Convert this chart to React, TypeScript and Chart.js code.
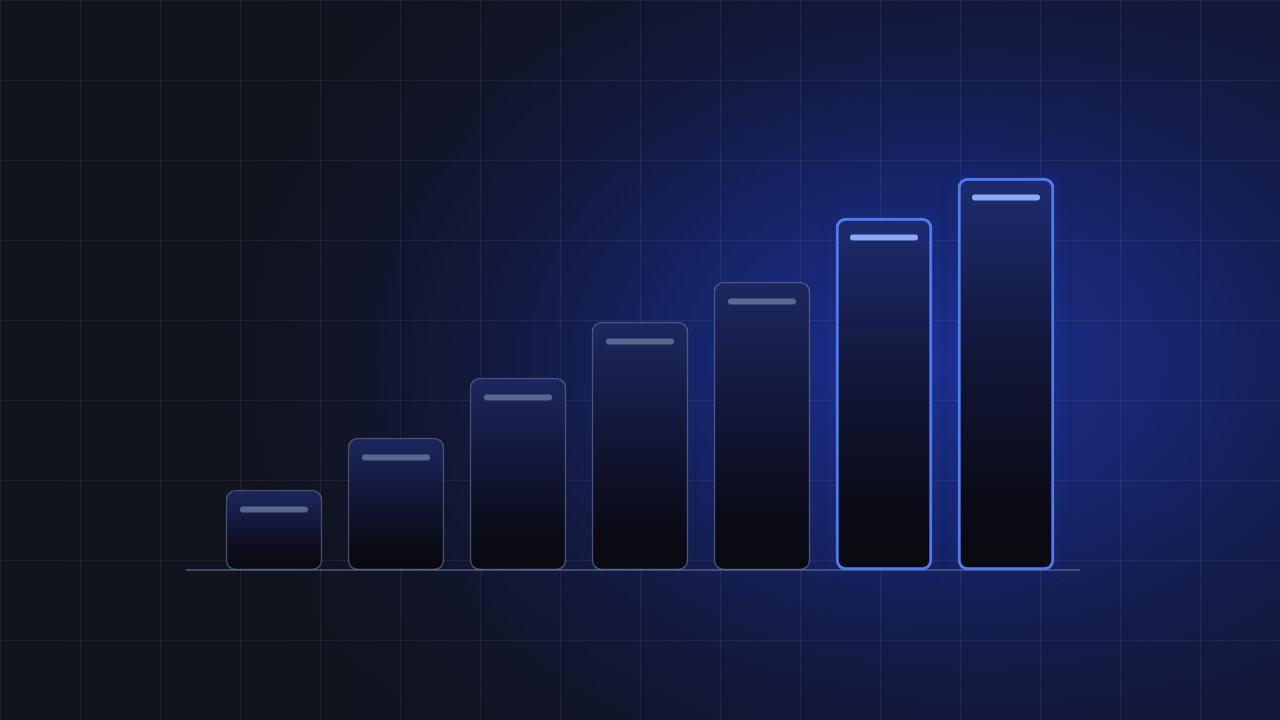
import { useEffect, useRef } from "react"
import { Chart, type ChartConfiguration, type Plugin, registerables } from "chart.js"

Chart.register(...registerables)

// data
const labels = ["1", "2", "3", "4", "5", "6", "7"]
const values = [20, 33, 48, 62, 72, 88, 98]
const highlighted = [false, false, false, false, false, true, true]

const borderColors = highlighted.map((h) => (h ? "#4f7cf2" : "rgba(120,130,165,0.55)"))
const borderWidths = highlighted.map((h) => (h ? 3 : 1.5))
const pillColors = highlighted.map((h) => (h ? "#8aa9f7" : "rgba(115,125,165,0.75)"))

const W = 1280
const H = 720

// dark canvas, blue glow and square grid behind everything
const backdrop: Plugin<"bar"> = {
  id: "backdrop",
  beforeDraw(chart) {
    const ctx = chart.ctx
    ctx.save()
    ctx.fillStyle = "#11131e"
    ctx.fillRect(0, 0, W, H)

    const lin = ctx.createLinearGradient(0, 0, W, 0)
    lin.addColorStop(0, "rgba(16,18,28,0)")
    lin.addColorStop(1, "rgba(20,28,70,0.6)")
    ctx.fillStyle = lin
    ctx.fillRect(0, 0, W, H)

    ctx.translate(930, 360)
    ctx.scale(1.4, 1)
    const glow = ctx.createRadialGradient(0, 0, 0, 0, 0, 530)
    glow.addColorStop(0, "rgba(28,50,150,0.95)")
    glow.addColorStop(0.35, "rgba(24,42,130,0.7)")
    glow.addColorStop(0.7, "rgba(20,30,90,0.3)")
    glow.addColorStop(1, "rgba(16,18,28,0)")
    ctx.fillStyle = glow
    ctx.fillRect(-W, -H, W * 2, H * 2)
    ctx.setTransform(1, 0, 0, 1, 0, 0)

    ctx.strokeStyle = "rgba(150,160,200,0.11)"
    ctx.lineWidth = 1
    ctx.beginPath()
    for (let x = 0; x <= W; x += 80) {
      ctx.moveTo(x + 0.5, 0)
      ctx.lineTo(x + 0.5, H)
    }
    for (let y = 0; y <= H; y += 80) {
      ctx.moveTo(0, y + 0.5)
      ctx.lineTo(W, y + 0.5)
    }
    ctx.stroke()
    ctx.restore()
  },
  beforeDatasetsDraw(chart) {
    // baseline
    const ctx = chart.ctx
    const y0 = chart.scales.y.getPixelForValue(0)
    ctx.save()
    ctx.strokeStyle = "rgba(110,120,160,0.7)"
    ctx.lineWidth = 1.5
    ctx.beginPath()
    ctx.moveTo(186, y0)
    ctx.lineTo(1080, y0)
    ctx.stroke()

    // soft glow behind highlighted bars
    chart.getDatasetMeta(0).data.forEach((el: any, i) => {
      if (!highlighted[i]) return
      ctx.shadowColor = "rgba(70,110,255,0.55)"
      ctx.shadowBlur = 18
      ctx.strokeStyle = "rgba(79,124,242,0.6)"
      ctx.lineWidth = 2
      ctx.beginPath()
      ctx.roundRect(el.x - el.width / 2 + 1, el.y + 1, el.width - 2, el.base - el.y - 2, 10)
      ctx.stroke()
    })
    ctx.restore()
  },
  afterDatasetsDraw(chart) {
    // short bar near the top of each column
    const ctx = chart.ctx
    ctx.save()
    ctx.lineCap = "round"
    ctx.lineWidth = 6
    chart.getDatasetMeta(0).data.forEach((el: any, i) => {
      const y = el.y + 19.5
      ctx.strokeStyle = pillColors[i]
      ctx.beginPath()
      ctx.moveTo(el.x - el.width / 2 + 17, y)
      ctx.lineTo(el.x + el.width / 2 - 17, y)
      ctx.stroke()
    })
    ctx.restore()
  },
}

export default function App() {
  const chartRef = useRef<HTMLCanvasElement>(null)
  const chartInstanceRef = useRef<Chart | null>(null)

  useEffect(() => {
    document.body.style.margin = "0"
    if (!chartRef.current) return
    const ctx = chartRef.current.getContext("2d")
    if (!ctx) return

    if (chartInstanceRef.current) {
      chartInstanceRef.current.destroy()
    }

    const config: ChartConfiguration<"bar"> = {
      type: "bar",
      data: {
        labels,
        datasets: [
          {
            data: values,
            backgroundColor: (c: any) => {
              const chart = c.chart
              const ys = chart.scales?.y
              if (!ys) return "#141a38"
              const top = ys.getPixelForValue(values[c.dataIndex])
              const bottom = ys.getPixelForValue(0)
              if (!isFinite(top) || !isFinite(bottom) || top === bottom) return "#141a38"
              const g = chart.ctx.createLinearGradient(0, top, 0, bottom)
              g.addColorStop(0, highlighted[c.dataIndex] ? "#1d2c70" : "#1c275f")
              g.addColorStop(0.45, "#121738")
              g.addColorStop(0.8, "#0b0c18")
              g.addColorStop(1, "#09090f")
              return g
            },
            borderColor: borderColors,
            borderWidth: borderWidths,
            borderRadius: 10,
            borderSkipped: false,
            barThickness: 96,
          },
        ],
      },
      options: {
        responsive: false,
        animation: false,
        layout: { padding: { left: 213, right: 213, top: 170, bottom: 150 } },
        scales: {
          x: { display: false },
          y: { display: false, min: 0, max: 100 },
        },
        plugins: {
          legend: { display: false },
          tooltip: { enabled: false },
        },
      },
      plugins: [backdrop],
    }

    chartInstanceRef.current = new Chart(ctx, config)

    return () => {
      if (chartInstanceRef.current) {
        chartInstanceRef.current.destroy()
        chartInstanceRef.current = null
      }
    }
  }, [])

  return (
    <div style={{ width: W, height: H }}>
      <canvas ref={chartRef} width={W} height={H} style={{ display: "block" }}></canvas>
    </div>
  )
}
